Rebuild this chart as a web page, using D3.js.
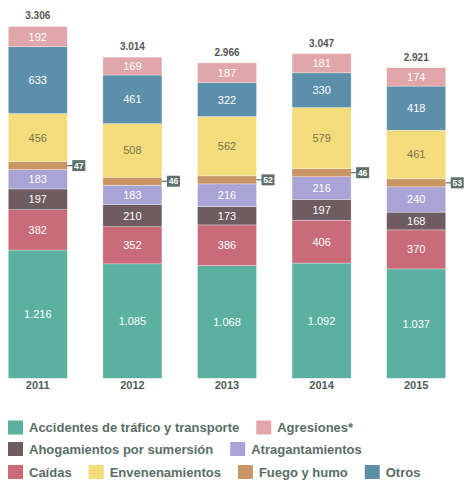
<!DOCTYPE html>
<meta charset="utf-8">
<style>
body { margin: 0; background: #fff; }
text { font-family: "Liberation Sans", Arial, sans-serif; }
</style>
<body>
<script src="https://d3js.org/d3.v7.min.js"></script>
<script>

// data, bottom of the stack first
var years = ["2011", "2012", "2013", "2014", "2015"];
var totals = ["3.306", "3.014", "2.966", "3.047", "2.921"];
var categories = ["Accidentes de tráfico y transporte", "Caídas", "Ahogamientos por sumersión",
  "Atragantamientos", "Fuego y humo", "Envenenamientos", "Otros", "Agresiones*"];
var trafico = [1216, 1085, 1068, 1092, 1037];
var caidas = [382, 352, 386, 406, 370];
var ahogamientos = [197, 210, 173, 197, 168];
var atragantamientos = [183, 183, 216, 216, 240];
var fuego = [47, 46, 52, 46, 53];
var envenenamientos = [456, 508, 562, 579, 461];
var otros = [633, 461, 322, 330, 418];
var agresiones = [192, 169, 187, 181, 174];
var series = [trafico, caidas, ahogamientos, atragantamientos, fuego, envenenamientos, otros, agresiones];

var colors = ["#5bb09f", "#c96b79", "#6e5c61", "#aaa4d6", "#c99564", "#f2dc7b", "#5c8fa9", "#e0a6a9"];
var labelColors = ["#fff", "#fff", "#fff", "#fff", "#fff", "#7a7350", "#fff", "#fff"];

// legend rows (indices into categories)
var legendRows = [[0, 7], [2, 3], [1, 5, 4, 6]];

var W = 464, H = 481, baseline = 378.3, minH = 8;

var svg = d3.select("body").append("svg")
    .attr("width", W)
    .attr("height", H);

var fmt = d3.formatLocale({decimal: ",", thousands: ".", grouping: [3], currency: ["", ""]}).format(",");

var x = d3.scaleBand()
    .domain(years)
    .range([-9.5, 463.5])
    .paddingInner(0.376)
    .paddingOuter(0.188);

// height scale (px per value)
var h = d3.scaleLinear().domain([0, 1000]).range([0, 105.5]);

// build the stacked segments
var segs = [];
var tops = [];
years.forEach(function(yr, i) {
  var y0 = baseline;
  series.forEach(function(s, k) {
    var hh = Math.max(h(s[i]), minH);
    segs.push({year: yr, k: k, value: s[i], y: y0 - hh, h: hh});
    y0 -= hh;
  });
  tops.push(y0);
});

var g = svg.append("g");

g.selectAll("rect.seg")
  .data(segs)
  .enter().append("rect")
    .attr("class", "seg")
    .attr("x", function(d) { return x(d.year); })
    .attr("y", function(d) { return d.y; })
    .attr("width", x.bandwidth())
    .attr("height", function(d) { return d.h; })
    .attr("fill", function(d) { return colors[d.k]; })
    .attr("stroke", "#fff")
    .attr("stroke-opacity", 0.5)
    .attr("stroke-width", 0.6);

// value labels inside segments
g.selectAll("text.val")
  .data(segs.filter(function(d) { return d.k != 4; }))
  .enter().append("text")
    .attr("class", "val")
    .attr("x", function(d) { return x(d.year) + x.bandwidth() / 2; })
    .attr("y", function(d) { return d.y + d.h / 2 + 4; })
    .attr("text-anchor", "middle")
    .attr("font-size", "11px")
    .attr("fill", function(d) { return labelColors[d.k]; })
    .text(function(d) { return fmt(d.value); });

// callouts for fuego y humo
var call = g.selectAll("g.call")
  .data(segs.filter(function(d) { return d.k == 4; }))
  .enter().append("g")
    .attr("class", "call")
    .attr("transform", function(d) {
      return "translate(" + (x(d.year) + x.bandwidth()) + "," + (d.y + d.h / 2) + ")";
    });
call.append("line")
    .attr("x1", 0).attr("x2", 6)
    .attr("stroke", "#5d716c")
    .attr("stroke-width", 1.2);
call.append("rect")
    .attr("x", 5).attr("y", -5.5)
    .attr("width", 13).attr("height", 11)
    .attr("fill", "#5d716c");
call.append("text")
    .attr("x", 11.5).attr("y", 3.2)
    .attr("text-anchor", "middle")
    .attr("font-size", "8.5px")
    .attr("font-weight", "bold")
    .attr("fill", "#fff")
    .text(function(d) { return d.value; });

// totals above bars
g.selectAll("text.total")
  .data(years)
  .enter().append("text")
    .attr("class", "total")
    .attr("x", function(d) { return x(d) + x.bandwidth() / 2; })
    .attr("y", function(d, i) { return tops[i] - 7; })
    .attr("text-anchor", "middle")
    .attr("font-size", "10px")
    .attr("font-weight", "bold")
    .attr("fill", "#555")
    .text(function(d, i) { return totals[i]; });

// year labels
g.selectAll("text.year")
  .data(years)
  .enter().append("text")
    .attr("class", "year")
    .attr("x", function(d) { return x(d) + x.bandwidth() / 2; })
    .attr("y", baseline + 10.5)
    .attr("text-anchor", "middle")
    .attr("font-size", "11px")
    .attr("font-weight", "bold")
    .attr("fill", "#4d5e59")
    .text(function(d) { return d; });

// legend
var legend = svg.append("g");
var rowY = [427.5, 449, 472];
legendRows.forEach(function(row, r) {
  var cx = 8;
  row.forEach(function(k) {
    legend.append("rect")
        .attr("x", cx).attr("y", rowY[r] - 7)
        .attr("width", 15).attr("height", 14)
        .attr("fill", colors[k]);
    var t = legend.append("text")
        .attr("x", cx + 21).attr("y", rowY[r] + 4.5)
        .attr("font-size", "13px")
        .attr("font-weight", "bold")
        .attr("fill", "#5a6e68")
        .text(categories[k]);
    cx += 21 + t.node().getComputedTextLength() + 17;
  });
});

</script>
</body>
